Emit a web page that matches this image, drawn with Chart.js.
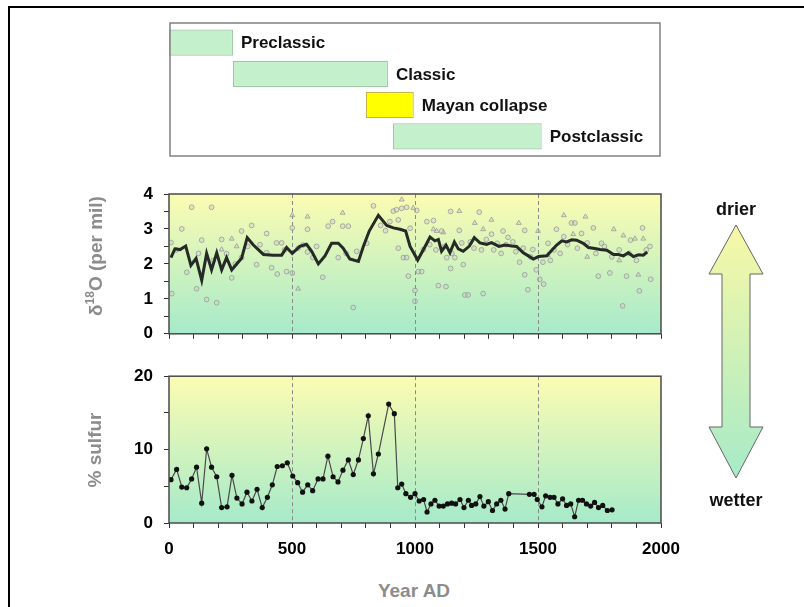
<!DOCTYPE html>
<html>
<head>
<meta charset="utf-8">
<script src="https://cdn.jsdelivr.net/npm/chart.js@4.4.1/dist/chart.umd.min.js"></script>
<style>
body { margin: 0; background: #fff; }
#page { position: relative; width: 804px; height: 607px; overflow: hidden; font-family: "Liberation Sans", Arial, sans-serif; }
canvas { position: absolute; }
.frame { position: absolute; left: 8px; top: 6px; width: 820px; height: 620px; border-top: 2px solid #000; border-left: 2px solid #000; }
.ytitle { position: absolute; color: #8c8c8c; font-weight: bold; font-size: 19px; white-space: nowrap; transform: translate(-50%, -50%) rotate(-90deg); }
.ytitle sup { font-size: 12px; }
.note { position: absolute; font-weight: bold; font-size: 18px; color: #111; transform: translate(-50%, -50%); }
#xtitle { position: absolute; left: 414px; top: 591px; color: #8c8c8c; font-weight: bold; font-size: 19px; transform: translate(-50%, -50%); }
svg { position: absolute; left: 0; top: 0; }
</style>
</head>
<body>
<div id="page">
  <div class="frame"></div>
  <canvas id="periods" width="510" height="150" style="left:160px; top:15px;"></canvas>
  <canvas id="oxygen" width="700" height="185" style="left:0; top:170px;"></canvas>
  <canvas id="sulfur" width="700" height="208" style="left:0; top:355px;"></canvas>
  <div class="ytitle" style="left:95px; top:256px;">δ<sup>18</sup>O (per mil)</div>
  <div class="ytitle" style="left:95px; top:450px;">% sulfur</div>
  <div id="xtitle">Year AD</div>
  <svg width="804" height="607">
    <defs>
      <linearGradient id="arrowFill" x1="0" y1="0" x2="0" y2="1">
        <stop offset="0" stop-color="#f8f8a6"/>
        <stop offset="1" stop-color="#a6eac8"/>
      </linearGradient>
    </defs>
    <polygon points="736,225 763,274 750,274 750,427 763,427 736,478 709,427 722,427 722,274 709,274" fill="url(#arrowFill)" stroke="#666" stroke-width="1"/>
  </svg>
  <div class="note" style="left:736px; top:209px;">drier</div>
  <div class="note" style="left:736px; top:500px;">wetter</div>
</div>
<script>
const xTickLabels = [0, 500, 1000, 1500, 2000];
const dividerYears = [500, 1000, 1500];

const periodNames = ['Preclassic', 'Classic', 'Mayan collapse', 'Postclassic'];
const periodStart = [0, 260, 800, 910];
const periodEnd = [260, 890, 995, 1515];

const o18LineYears = [8, 24, 45, 68, 89, 110, 133, 153, 173, 194, 214, 234, 255, 295, 318, 343, 384, 424, 458, 478,
    501, 532, 559, 580, 607, 634, 661, 688, 708, 735, 770, 790, 814, 851, 885, 912, 939, 962, 980, 1011,
    1041, 1061, 1081, 1095, 1108, 1126, 1142, 1160, 1176, 1196, 1221, 1241, 1264, 1291, 1311, 1341, 1366, 1393, 1413, 1440,
    1461, 1481, 1502, 1536, 1556, 1576, 1597, 1617, 1637, 1657, 1684, 1705, 1725, 1752, 1780, 1807, 1827, 1847, 1867, 1888,
    1908, 1928, 1944];
const o18LineValues = [2.18, 2.43, 2.41, 2.51, 1.96, 2.16, 1.53, 2.30, 1.83, 2.32, 1.83, 2.18, 1.83, 2.16, 2.75, 2.54, 2.27, 2.25, 2.25, 2.47,
    2.30, 2.50, 2.56, 2.36, 2.00, 2.23, 2.59, 2.59, 2.45, 2.14, 2.07, 2.50, 2.94, 3.39, 3.10, 3.03, 2.99, 2.94, 2.50, 2.11,
    2.50, 2.77, 2.66, 2.70, 2.36, 2.54, 2.32, 2.63, 2.43, 2.36, 2.51, 2.75, 2.60, 2.56, 2.61, 2.50, 2.54, 2.51, 2.50, 2.32,
    2.23, 2.14, 2.21, 2.23, 2.39, 2.54, 2.66, 2.63, 2.69, 2.68, 2.59, 2.47, 2.45, 2.41, 2.39, 2.27, 2.27, 2.23, 2.32, 2.21,
    2.26, 2.25, 2.34];

const o18CircleYears = [8, 11, 52, 72, 92, 112, 133, 153, 173, 194, 214, 234, 255, 295, 295, 336, 356, 397, 397, 417,
    437, 440, 458, 478, 501, 501, 525, 545, 563, 563, 585, 625, 647, 665, 688, 706, 729, 749, 763, 804,
    831, 898, 912, 925, 932, 932, 946, 953, 966, 966, 973, 980, 1000, 1000, 1007, 1014, 1027, 1034, 1048, 1075,
    1095, 1108, 1126, 1129, 1145, 1145, 1162, 1180, 1196, 1203, 1216, 1225, 1261, 1277, 1311, 1334, 1358, 1378, 1398, 1425,
    1446, 1446, 1459, 1479, 1493, 1507, 1523, 1541, 1575, 1605, 1636, 1650, 1677, 1725, 1745, 1758, 1792, 1844, 1860, 1876,
    1912, 1925, 1955, 1958, 30, 120, 180, 270, 320, 370, 470, 600, 720, 860, 880, 1060, 1085, 1120, 1150, 1190,
    1240, 1270, 1290, 1320, 1350, 1370, 1410, 1440, 1470, 1520, 1550, 1565, 1590, 1620, 1660, 1700, 1735, 1770, 1800, 1830,
    1870, 1900, 1940];
const o18CircleValues = [2.61, 1.15, 3.00, 1.76, 3.62, 1.29, 2.68, 0.98, 3.62, 0.89, 2.70, 2.29, 1.60, 2.94, 2.18, 3.10, 1.98, 2.87, 2.32, 1.89,
    2.60, 1.71, 2.60, 1.78, 1.74, 3.03, 2.45, 2.54, 2.99, 2.34, 2.18, 1.62, 3.08, 3.21, 2.18, 3.08, 3.08, 0.75, 2.36, 2.59,
    3.66, 3.21, 3.51, 3.55, 3.26, 2.45, 3.59, 2.18, 3.62, 2.18, 1.65, 3.02, 1.24, 0.93, 3.53, 1.78, 1.78, 2.41, 3.21, 3.24,
    1.38, 2.94, 1.35, 2.18, 3.50, 1.87, 2.18, 2.96, 1.98, 1.11, 1.11, 2.63, 3.48, 1.15, 2.85, 2.59, 2.94, 2.76, 2.63, 2.05,
    2.96, 1.69, 1.26, 2.41, 1.83, 1.56, 1.42, 2.59, 2.99, 2.78, 3.17, 3.17, 2.87, 3.03, 1.65, 2.59, 1.74, 0.80, 1.65, 2.68,
    1.23, 3.03, 2.50, 1.56, 2.40, 2.30, 2.10, 2.00, 2.50, 2.55, 2.40, 2.50, 2.30, 3.10, 2.95, 2.55, 2.40, 2.50, 2.30, 2.60,
    2.45, 2.40, 2.70, 2.40, 2.30, 2.55, 2.35, 2.45, 2.20, 2.05, 2.10, 2.40, 2.30, 2.55, 2.45, 2.60, 2.30, 2.50, 2.20, 2.40,
    2.30, 2.10, 2.40];

const o18TriangleYears = [214, 255, 275, 501, 525, 563, 706, 946, 993, 1075, 1088, 1115, 1180, 1243, 1277, 1311, 1422, 1500, 1540, 1605,
    1643, 1693, 1700, 1808, 1830, 1847, 1894, 1908, 1928];
const o18TriangleValues = [2.41, 2.72, 2.50, 3.39, 1.29, 3.35, 3.46, 3.84, 3.60, 2.99, 2.94, 2.90, 3.51, 3.17, 2.99, 3.26, 3.17, 2.94, 2.25, 3.39,
    2.85, 3.35, 2.20, 2.99, 2.10, 2.81, 2.72, 1.69, 2.72];

const sulfurYears = [8, 31, 52, 72, 92, 112, 133, 153, 173, 194, 214, 236, 256, 276, 297, 317, 337, 358, 379, 400,
    420, 440, 461, 481, 503, 523, 543, 564, 584, 606, 626, 646, 667, 687, 707, 729, 749, 770, 790, 810,
    831, 851, 893, 916, 930, 946, 963, 982, 1000, 1017, 1035, 1049, 1065, 1081, 1098, 1115, 1132, 1149, 1165, 1183,
    1199, 1217, 1230, 1247, 1264, 1280, 1298, 1315, 1332, 1349, 1366, 1381, 1465, 1484, 1497, 1516, 1531, 1549, 1565, 1581,
    1600, 1616, 1633, 1649, 1665, 1681, 1697, 1714, 1730, 1746, 1763, 1782, 1801];
const sulfurValues = [5.9, 7.3, 4.9, 4.8, 6.0, 7.6, 2.7, 10.1, 7.6, 6.3, 2.1, 2.2, 6.5, 3.4, 2.6, 4.2, 3.0, 4.6, 2.1, 3.5,
    5.2, 7.7, 7.8, 8.2, 6.4, 5.5, 4.2, 5.2, 4.4, 6.0, 6.0, 9.1, 6.3, 5.6, 7.2, 8.6, 6.6, 8.6, 11.5, 14.6,
    6.7, 9.4, 16.2, 14.9, 4.8, 5.3, 4.0, 3.5, 4.0, 3.0, 3.2, 1.5, 2.6, 3.1, 2.3, 2.3, 2.6, 2.7, 2.6, 3.2,
    2.1, 3.1, 2.4, 2.6, 3.6, 2.3, 2.9, 1.7, 2.6, 3.1, 1.9, 4.0, 3.9, 3.9, 3.2, 2.2, 3.7, 3.5, 3.5, 2.6,
    3.3, 2.4, 2.6, 0.85, 3.1, 3.1, 2.6, 2.3, 2.8, 2.1, 2.4, 1.7, 1.8];

function toPoints(xs, ys) {
    return xs.map((x, i) => ({ x: x, y: ys[i] }));
}

const tickFont = { family: 'Liberation Sans', size: 17, weight: 'bold' };

const periodLabels = {
    id: 'periodLabels',
    afterDatasetsDraw(chart) {
        const ctx = chart.ctx;
        const meta = chart.getDatasetMeta(0);
        ctx.save();
        ctx.font = 'bold 17px "Liberation Sans", Arial';
        ctx.fillStyle = '#111';
        ctx.textBaseline = 'middle';
        meta.data.forEach((bar, i) => {
            ctx.fillText(periodNames[i], bar.x + 8, bar.y + 1);
        });
        ctx.restore();
    },
    afterDraw(chart) {
        const a = chart.chartArea;
        const ctx = chart.ctx;
        ctx.save();
        ctx.strokeStyle = '#808080';
        ctx.lineWidth = 1.5;
        ctx.strokeRect(a.left + 1, a.top - 4, a.right - a.left - 2, a.bottom - a.top + 8);
        ctx.restore();
    }
};

const plotDecor = {
    id: 'plotDecor',
    beforeDatasetsDraw(chart) {
        const ctx = chart.ctx;
        const a = chart.chartArea;
        const x = chart.scales.x;
        const grad = ctx.createLinearGradient(0, a.top, 0, a.bottom);
        grad.addColorStop(0, '#fcfcb2');
        grad.addColorStop(1, '#a6eaca');
        ctx.save();
        ctx.fillStyle = grad;
        ctx.fillRect(a.left, a.top, a.right - a.left, a.bottom - a.top);
        ctx.strokeStyle = '#8a8a8a';
        ctx.lineWidth = 1;
        ctx.setLineDash([4, 3]);
        for (const year of dividerYears) {
            const px = Math.round(x.getPixelForValue(year)) + 0.5;
            ctx.beginPath();
            ctx.moveTo(px, a.top);
            ctx.lineTo(px, a.bottom);
            ctx.stroke();
        }
        ctx.restore();
    },
    afterDraw(chart) {
        const a = chart.chartArea;
        const ctx = chart.ctx;
        ctx.save();
        ctx.strokeStyle = '#4a4a4a';
        ctx.lineWidth = 1.5;
        ctx.strokeRect(a.left, a.top, a.right - a.left, a.bottom - a.top);
        ctx.restore();
    }
};

function xScale(showLabels, height) {
    return {
        type: 'linear',
        min: 0,
        max: 2000,
        afterFit: s => { s.height = height; },
        afterBuildTicks: s => { s.ticks = []; for (let v = 0; v <= 2000; v += 100) s.ticks.push({ value: v }); },
        grid: { drawOnChartArea: false, tickLength: 5, color: '#333', tickColor: '#333' },
        border: { display: false },
        ticks: {
            autoSkip: false,
            maxRotation: 0,
            padding: 11,
            color: '#000',
            font: tickFont,
            callback: v => (showLabels && xTickLabels.includes(v)) ? String(v) : ''
        }
    };
}

function yScale(max, step, labelEvery) {
    return {
        min: 0,
        max: max,
        afterFit: s => { s.width = 169; },
        grid: { drawOnChartArea: false, tickLength: 5, color: '#333', tickColor: '#333' },
        border: { display: false },
        ticks: {
            stepSize: step,
            autoSkip: false,
            padding: 11,
            color: '#000',
            font: tickFont,
            callback: v => (Math.abs(v % labelEvery) < 1e-9) ? String(v) : ''
        }
    };
}

const common = {
    responsive: false,
    animation: false,
    events: [],
    plugins: { legend: { display: false }, tooltip: { enabled: false } }
};

new Chart(document.getElementById('periods'), {
    type: 'bar',
    data: {
        labels: periodNames,
        datasets: [{
            data: periodStart.map((s, i) => [s, periodEnd[i]]),
            backgroundColor: ['#c4f0cc', '#c4f0cc', '#ffff00', '#c4f0cc'],
            borderColor: ['#9cc8a4', '#9cc8a4', '#c8b448', '#9cc8a4'],
            borderWidth: 1.2,
            borderSkipped: false,
            categoryPercentage: 1,
            barPercentage: 0.84
        }]
    },
    options: Object.assign({}, common, {
        indexAxis: 'y',
        layout: { padding: { left: 9, right: 9, top: 12, bottom: 13 } },
        scales: {
            x: { type: 'linear', min: 0, max: 2000, display: false },
            y: { display: false }
        }
    }),
    plugins: [periodLabels]
});

new Chart(document.getElementById('oxygen'), {
    type: 'scatter',
    data: {
        datasets: [{
            type: 'line',
            data: toPoints(o18LineYears, o18LineValues),
            borderColor: '#262a26',
            borderWidth: 3,
            pointRadius: 0,
            tension: 0,
            order: 0
        }, {
            data: toPoints(o18CircleYears, o18CircleValues),
            pointStyle: 'circle',
            pointRadius: 2.4,
            borderWidth: 1,
            borderColor: 'rgba(150,150,150,0.75)',
            backgroundColor: 'rgba(205,205,205,0.45)',
            order: 1
        }, {
            data: toPoints(o18TriangleYears, o18TriangleValues),
            pointStyle: 'triangle',
            pointRadius: 2.8,
            borderWidth: 1,
            borderColor: 'rgba(150,150,150,0.75)',
            backgroundColor: 'rgba(205,205,205,0.45)',
            order: 1
        }]
    },
    options: Object.assign({}, common, {
        layout: { padding: { left: 0, right: 39, top: 24, bottom: 0 } },
        scales: {
            x: xScale(false, 12),
            y: yScale(4, 0.5, 1)
        }
    }),
    plugins: [plotDecor]
});

new Chart(document.getElementById('sulfur'), {
    type: 'line',
    data: {
        datasets: [{
            data: toPoints(sulfurYears, sulfurValues),
            borderColor: '#4a4a4a',
            borderWidth: 1.2,
            pointRadius: 2.6,
            pointBorderWidth: 0,
            pointBackgroundColor: '#111',
            tension: 0
        }]
    },
    options: Object.assign({}, common, {
        layout: { padding: { left: 0, right: 39, top: 19, bottom: 0 } },
        scales: {
            x: xScale(true, 40),
            y: yScale(20, 5, 10)
        }
    }),
    plugins: [plotDecor]
});
</script>
</body>
</html>
